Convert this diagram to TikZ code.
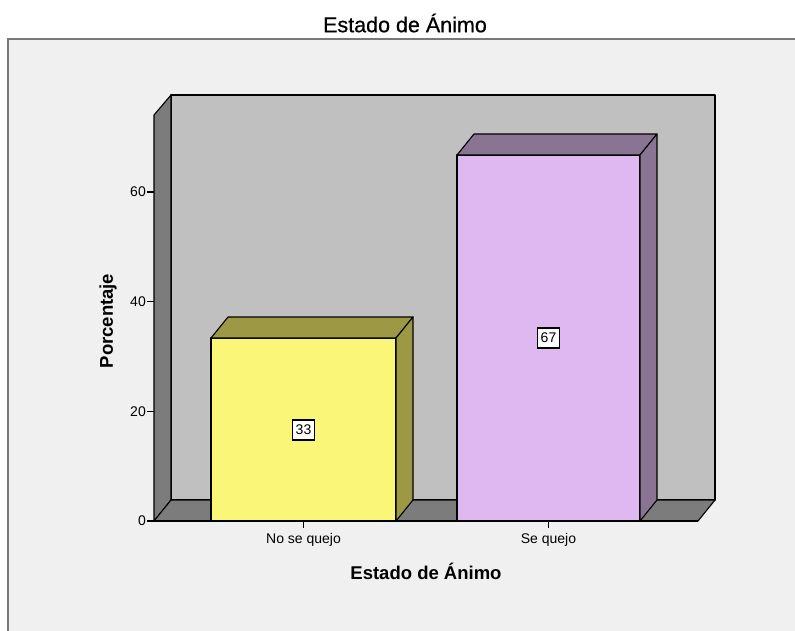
\documentclass[tikz,border=0pt]{standalone}
\usepackage{fontspec}
\setmainfont{Liberation Sans}
\newfontfamily\titlefont[FakeBold=0.6]{Liberation Sans}
\definecolor{bgout}{RGB}{240,240,240}
\definecolor{wallc}{RGB}{192,192,192}
\definecolor{walldark}{RGB}{124,124,124}
\definecolor{frameg}{RGB}{120,120,120}
\definecolor{yelf}{RGB}{250,246,120}
\definecolor{yeld}{RGB}{156,152,68}
\definecolor{purf}{RGB}{223,184,242}
\definecolor{purd}{RGB}{138,116,148}
\tikzset{
  face/.style={draw=black, line width=1.1pt, line join=round},
  ticklab/.style={font=\fontsize{14}{16}\selectfont, inner sep=0pt},
  axtitle/.style={font=\fontsize{18.5}{21}\selectfont\bfseries, inner sep=0pt},
  vallab/.style={draw=black, fill=white, line width=1.1pt, font=\fontsize{14}{16}\selectfont, inner xsep=3pt, inner ysep=3pt, minimum width=22pt, minimum height=20pt},
}
\begin{document}
\begin{tikzpicture}[x=1pt,y=-1pt]
\useasboundingbox (0,0) rectangle (795,630);
\clip (0,0) rectangle (795,630);
\fill[white] (0,0) rectangle (795,630);
% outer frame
\draw[fill=bgout, draw=frameg, line width=1.6pt] (8,39) rectangle (805,640);
% title
\node[font=\fontsize{21.5}{24}\selectfont\titlefont, inner sep=0pt] (title) at (405,23) {Estado de Ánimo};
% back wall, left wall, floor
\draw[face, fill=wallc] (171,95) -- (715,95) -- (715,500) -- (171,500) -- cycle;
\draw[face, fill=walldark] (154,115) -- (171,95) -- (171,500) -- (154,521) -- cycle;
\draw[face, fill=walldark] (154,521) -- (171,500) -- (715,500) -- (698,521) -- cycle;
% y axis ticks
\foreach \v/\yy in {0/521,20/411.3,40/301.7,60/192} {
  \draw[line width=1.1pt] (147,\yy) -- (154,\yy);
  \node[ticklab, anchor=east] (yt\v) at (146,\yy) {\v};
}
% bar 1
\draw[face, fill=yelf] (211,521) rectangle (396,338);
\draw[face, fill=yeld] (211,338) -- (228,317) -- (413,317) -- (396,338) -- cycle;
\draw[face, fill=yeld] (396,521) -- (413,500) -- (413,317) -- (396,338) -- cycle;
% bar 2
\draw[face, fill=purf] (457,521) rectangle (640,155);
\draw[face, fill=purd] (457,155) -- (474,134) -- (657,134) -- (640,155) -- cycle;
\draw[face, fill=purd] (640,521) -- (657,500) -- (657,134) -- (640,155) -- cycle;
% axis base line
\draw[line width=1.1pt] (154,521) -- (698,521);
% x ticks
\draw[line width=1.1pt] (303.5,521) -- (303.5,528);
\draw[line width=1.1pt] (548.5,521) -- (548.5,528);
\node[ticklab] (xl1) at (303.5,540) {No se quejo};
\node[ticklab] (xl2) at (548.5,540) {Se quejo};
% value labels
\node[vallab] (v1) at (303.5,430) {33};
\node[vallab] (v2) at (548.5,338) {67};
% axis titles
\node[axtitle] (xt) at (426,571) {Estado de Ánimo};
\node[axtitle, rotate=90] (yt) at (108,321) {Porcentaje};
\end{tikzpicture}
\end{document}
